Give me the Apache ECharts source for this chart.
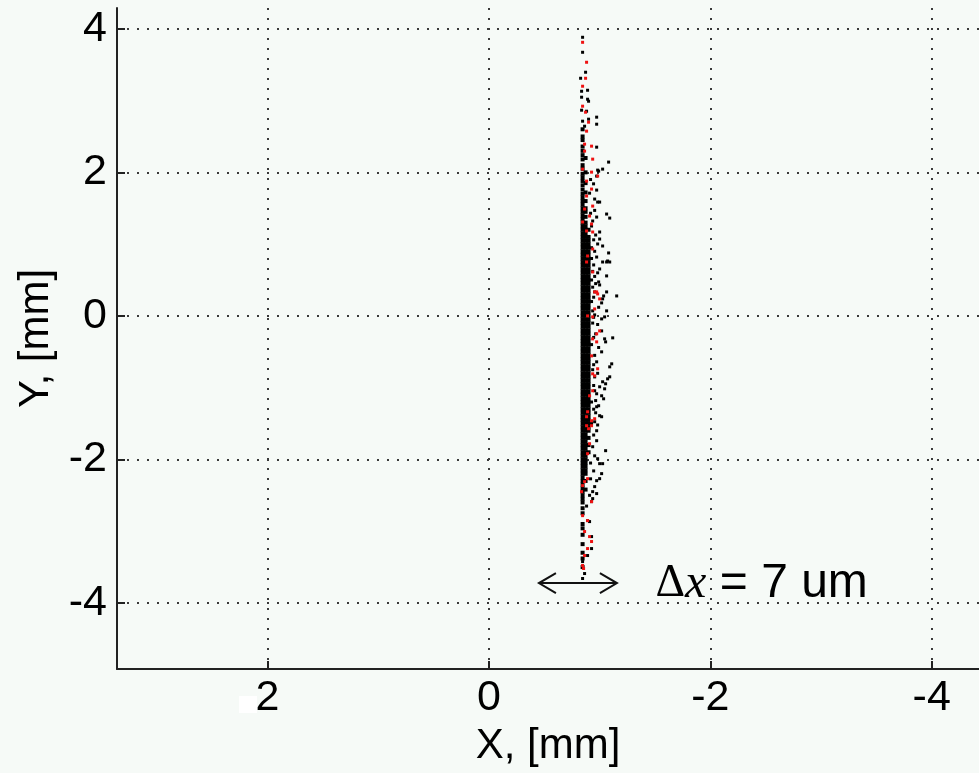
<!DOCTYPE html>
<html>
<head>
<meta charset="utf-8">
<script src="https://cdn.jsdelivr.net/npm/echarts@6/dist/echarts.min.js"></script>
<style>
  html, body { margin: 0; padding: 0; background: #f6faf7; }
  #chart { width: 979px; height: 773px; }
</style>
</head>
<body>
<div id="chart"></div>
<script>
// Axis ranges (mm) and tick values
const xRange = [-4.427, 3.36];
const yRange = [-4.92, 4.29];
const xTicks = [2, 0, -2, -4];
const yTicks = [4, 2, 0, -2, -4];

// Dense core of the beam spot: three columns of points
const coreColumnX = [-0.846, -0.873, -0.9];
const coreColumnY = [
  [2.6, 2.5, 2.45, 2.36, 2.3, 2.24, 2.18, 2.1, 2.05, 1.98, 1.93, 1.88, 1.82, 1.76, 1.7, 1.65,
   1.6, 1.55, 1.5, 1.45, 1.4, 1.35, 1.3, 1.25, 1.2, 1.15, 1.1, 1.05, 1, 0.95, 0.9, 0.85, 0.8, 0.75,
   0.7, 0.65, 0.6, 0.55, 0.5, 0.45, 0.4, 0.35, 0.3, 0.25, 0.2, 0.15, 0.1, 0.05, 0, -0.05, -0.1,
   -0.15, -0.2, -0.25, -0.3, -0.35, -0.4, -0.45, -0.5, -0.55, -0.6, -0.65, -0.7, -0.75, -0.8,
   -0.85, -0.9, -0.95, -1, -1.05, -1.1, -1.15, -1.2, -1.25, -1.3, -1.35, -1.4, -1.45, -1.5,
   -1.55, -1.6, -1.65, -1.7, -1.75, -1.8, -1.85, -1.9, -1.95, -2, -2.05, -2.1, -2.15, -2.2,
   -2.25, -2.3, -2.35, -2.4, -2.45, -2.5, -2.55, -2.6, -2.68, -2.75, -2.9, -2.96, -3.05,
   -3.18, -3.3, -3.38, -3.5],
  [2.2, 2.0, 1.85, 1.72, 1.6, 1.5, 1.45, 1.38, 1.3, 1.25, 1.2, 1.15, 1.1, 1.05, 1, 0.95, 0.9,
   0.85, 0.8, 0.75, 0.7, 0.65, 0.6, 0.55, 0.5, 0.45, 0.4, 0.35, 0.3, 0.25, 0.2, 0.15, 0.1, 0.05,
   0, -0.05, -0.1, -0.15, -0.2, -0.25, -0.3, -0.35, -0.4, -0.45, -0.5, -0.55, -0.6, -0.65, -0.7,
   -0.75, -0.8, -0.85, -0.9, -0.95, -1, -1.05, -1.1, -1.15, -1.2, -1.25, -1.3, -1.35, -1.4,
   -1.45, -1.5, -1.55, -1.6, -1.65, -1.7, -1.75, -1.8, -1.85, -1.9, -1.95, -2, -2.05, -2.1,
   -2.15, -2.2, -2.3, -2.42],
  [1.2, 1.1, 1.05, 1, 0.95, 0.9, 0.85, 0.8, 0.75, 0.7, 0.65, 0.6, 0.55, 0.5, 0.45, 0.4, 0.35,
   0.3, 0.25, 0.2, 0.15, 0.1, 0.05, 0, -0.05, -0.1, -0.15, -0.2, -0.25, -0.3, -0.35, -0.4,
   -0.45, -0.5, -0.55, -0.6, -0.65, -0.7, -0.75, -0.8, -0.85, -0.9, -0.95, -1, -1.05, -1.1,
   -1.15, -1.2, -1.25, -1.3, -1.35, -1.4, -1.45, -1.5, -1.55, -1.6, -1.7, -1.8, -1.9]
];

// Scattered particles (black)
const blackPoints = [
  [-0.846,3.882],[-0.846,3.673],[-0.873,3.395],[-0.828,3.311],[-0.891,3.144],[-0.837,3.13],
  [-0.837,3.047],[-0.891,3.019],[-0.9,2.991],[-0.837,2.866],[-0.882,2.852],[-0.973,2.769],
  [-0.9,2.741],[-0.846,2.713],[-0.973,2.671],[-0.864,2.643],[-0.973,2.351],[-1.081,2.143],
  [-1.027,2.045],[-0.982,2.031],[-0.991,2.017],[-0.973,1.948],[-0.973,1.753],[-0.955,1.628],
  [-0.982,1.586],[-1.0,1.586],[-1.063,1.419],[-1.091,1.363],[-0.973,1.377],[-0.937,1.322],
  [-0.927,1.252],[-1.0,1.169],[-0.964,1.127],[-1.0,1.071],[-0.982,1.002],[-1.027,0.974],
  [-1.081,0.877],[-1.091,0.751],[-1.063,0.751],[-1.027,0.751],[-1.072,0.765],[-1.0,0.654],
  [-1.063,0.557],[-0.991,0.473],[-1.0,0.431],[-0.955,0.334],[-1.063,0.334],[-1.154,0.278],
  [-1.036,0.278],[-1.027,0.237],[-1.018,0.181],[-0.937,0.07],[-1.063,0.07],[-1.045,-0.014],
  [-1.018,-0.042],[-0.955,0.014],[-1.018,-0.209],[-1.045,-0.32],[-1.118,-0.306],[-1.054,-0.362],
  [-1.018,-0.501],[-0.973,-0.64],[-1.109,-0.668],[-1.091,-0.71],[-1.091,-0.849],[-1.072,-0.877],
  [-1.054,-0.946],[-1.027,-0.918],[-1.0,-0.988],[-0.955,-1.043],[-1.045,-1.016],[-0.973,-1.085],
  [-1.018,-1.113],[-1.036,-1.155],[-0.991,-1.252],[-0.973,-1.266],[-1.0,-1.391],[-1.018,-1.405],
  [-0.955,-1.475],[-0.973,-1.6],[-0.973,-1.739],[-0.937,-1.823],[-1.054,-1.878],[-0.982,-1.99],
  [-1.0,-2.059],[-1.027,-2.059],[-1.018,-2.198],[-1.0,-2.268],[-0.973,-2.296],[-0.955,-2.379],
  [-0.937,-2.449],[-0.973,-2.476],[-0.937,-2.546],[-0.927,-2.588],[-0.891,-2.852],[-0.909,-2.866],
  [-0.927,-3.075],[-0.927,-3.242],[-0.891,-3.339],[-0.846,-3.423],[-0.864,-3.59],[-0.846,-3.659],
  [-0.927,0.95],[-0.927,0.8],[-0.937,0.62],[-0.927,0.5],[-0.937,0.4],[-0.927,0.2],[-0.937,-0.1],
  [-0.927,-0.4],[-0.937,-0.75],[-0.927,-1.2],[-0.927,-1.5],[-0.955,0.9],[-0.955,0.55],
  [-0.964,-0.25],[-0.955,-0.85],[-0.964,-1.35],
  [-0.918,1.9],[-0.945,1.84],[-0.909,1.71],[-0.955,1.47],[-0.918,1.43],[-0.946,1.06],
  [-0.973,0.82],[-0.946,0.71],[-0.982,0.6],[-0.964,0.45],[-0.946,0.26],[-0.991,0.12],
  [-0.946,-0.02],[-0.982,-0.12],[-0.946,-0.3],[-0.991,-0.44],[-0.955,-0.55],[-0.946,-0.68],
  [-0.982,-0.8],[-0.946,-0.97],[-0.964,-1.18],[-0.946,-1.3],[-0.982,-1.52],[-0.946,-1.66],
  [-0.955,-1.95],[-0.918,-2.05],[-0.946,-2.16],[-0.918,-2.27],[-0.909,-2.5],[-0.882,-2.65]
];

// Scattered particles (red)
const redPoints = [
  [-0.846,3.812],[-0.882,3.534],[-0.873,3.311],[-0.846,3.2],[-0.846,2.922],[-0.873,2.838],
  [-0.9,2.699],[-0.882,2.574],[-0.864,2.393],[-0.927,2.365],[-0.864,2.296],[-0.937,2.184],
  [-0.846,2.045],[-0.927,2.003],[-0.982,1.948],[-0.882,1.878],[-0.927,1.767],[-0.882,1.67],
  [-0.937,1.53],[-0.864,1.489],[-0.909,1.391],[-0.846,1.308],[-0.927,1.28],[-0.882,1.183],
  [-0.937,1.169],[-0.937,0.932],[-0.891,0.835],[-0.882,0.751],[-0.937,0.612],[-0.955,0.334],
  [-0.973,0.334],[-0.982,0.306],[-1.0,0.237],[-0.955,0.097],[-0.891,0.0],[-0.937,-0.014],
  [-1.0,-0.209],[-0.973,-0.25],[-0.937,-0.32],[-0.973,-0.362],[-0.927,-0.557],[-0.982,-0.737],
  [-0.937,-0.807],[-0.955,-0.835],[-0.937,-1.043],[-0.909,-1.113],[-0.891,-1.336],[-0.882,-1.405],
  [-0.955,-1.433],[-0.927,-1.461],[-0.882,-1.53],[-0.927,-1.53],[-0.9,-1.572],[-0.909,-1.781],
  [-0.891,-1.92],[-0.891,-2.268],[-0.864,-2.31],[-0.846,-2.365],[-0.837,-2.449],[-0.927,-2.588],
  [-0.846,-2.783],[-0.891,-2.852],[-0.864,-3.005],[-0.909,-3.075],[-0.927,-3.144],[-0.891,-3.242],
  [-0.864,-3.339],[-0.846,-3.478],[-0.855,-3.52]
];

// Spread annotation: arrow from/to (x), arrow height (y), label start (x)
const spreadArrow = [-0.4516, -1.156, -3.723, -1.505];
const spreadText = ['Δ', 'x', ' = 7 um'];

const corePoints = [];
coreColumnX.forEach((x, i) => coreColumnY[i].forEach(y => corePoints.push([x, y])));

const tickLabelFont = { fontFamily: 'Liberation Sans', fontSize: 43, color: '#000' };
const gridLine = { show: true, lineStyle: { color: '#3a3a3a', width: 2, type: [2, 8] } };
const axisLine = { show: true, onZero: false, lineStyle: { color: '#222', width: 2 } };
const axisTick = (vals) => ({ show: true, inside: true, length: 8, customValues: vals,
  lineStyle: { color: '#222', width: 2 } });

const chart = echarts.init(document.getElementById('chart'), null, { renderer: 'canvas' });
chart.setOption({
  backgroundColor: '#f6faf7',
  animation: false,
  grid: { left: 117, right: 0, top: 8, bottom: 104, containLabel: false },
  xAxis: {
    type: 'value', inverse: true, min: xRange[0], max: xRange[1],
    name: 'X, [mm]', nameLocation: 'middle', nameGap: 56,
    nameTextStyle: { fontFamily: 'Liberation Sans', fontSize: 42, color: '#000' },
    axisLine: axisLine, axisTick: axisTick(xTicks), splitLine: gridLine,
    axisLabel: Object.assign({ customValues: xTicks, margin: 8 }, tickLabelFont)
  },
  yAxis: {
    type: 'value', min: yRange[0], max: yRange[1],
    name: 'Y, [mm]', nameLocation: 'middle', nameGap: 60,
    nameTextStyle: { fontFamily: 'Liberation Sans', fontSize: 42, color: '#000' },
    axisLine: axisLine, axisTick: axisTick(yTicks), splitLine: gridLine,
    axisLabel: Object.assign({ customValues: yTicks, margin: 10 }, tickLabelFont)
  },
  series: [
    { type: 'scatter', data: corePoints, symbol: 'rect', symbolSize: 4,
      itemStyle: { color: '#000', opacity: 1 }, silent: true },
    { type: 'scatter', data: blackPoints, symbol: 'rect', symbolSize: 3,
      itemStyle: { color: '#000', opacity: 1 }, silent: true },
    { type: 'scatter', data: redPoints, symbol: 'rect', symbolSize: 3,
      itemStyle: { color: '#ee1111', opacity: 1 }, silent: true },
    {
      type: 'custom', silent: true, clip: false,
      data: [spreadArrow],
      encode: { x: [0, 1, 3], y: 2 },
      renderItem: function (params, api) {
        const a = api.coord([api.value(0), api.value(2)]);
        const b = api.coord([api.value(1), api.value(2)]);
        const t = api.coord([api.value(3), api.value(2)]);
        const st = { stroke: '#111', lineWidth: 2, fill: null };
        return {
          type: 'group',
          children: [
            { type: 'line', shape: { x1: a[0], y1: a[1], x2: b[0], y2: b[1] }, style: st },
            { type: 'polyline', shape: { points: [[a[0] + 17, a[1] - 10], a, [a[0] + 17, a[1] + 10]] }, style: st },
            { type: 'polyline', shape: { points: [[b[0] - 17, b[1] - 10], b, [b[0] - 17, b[1] + 10]] }, style: st },
            {
              type: 'text', x: t[0], y: t[1] + 1,
              style: {
                text: '{d|' + spreadText[0] + '}{x|' + spreadText[1] + '}{n|' + spreadText[2] + '}',
                align: 'left', verticalAlign: 'middle', fill: '#000',
                rich: {
                  d: { fontFamily: 'Liberation Serif', fontSize: 46, fill: '#000', color: '#000' },
                  x: { fontFamily: 'Liberation Serif', fontStyle: 'italic', fontSize: 48, fill: '#000', color: '#000' },
                  n: { fontFamily: 'Liberation Sans', fontSize: 48, fill: '#000', color: '#000' }
                }
              }
            }
          ]
        };
      }
    }
  ],
  graphic: [
    { type: 'rect', left: 239, top: 696, shape: { width: 18, height: 17 }, style: { fill: '#ffffff' }, silent: true }
  ]
});
</script>
</body>
</html>
